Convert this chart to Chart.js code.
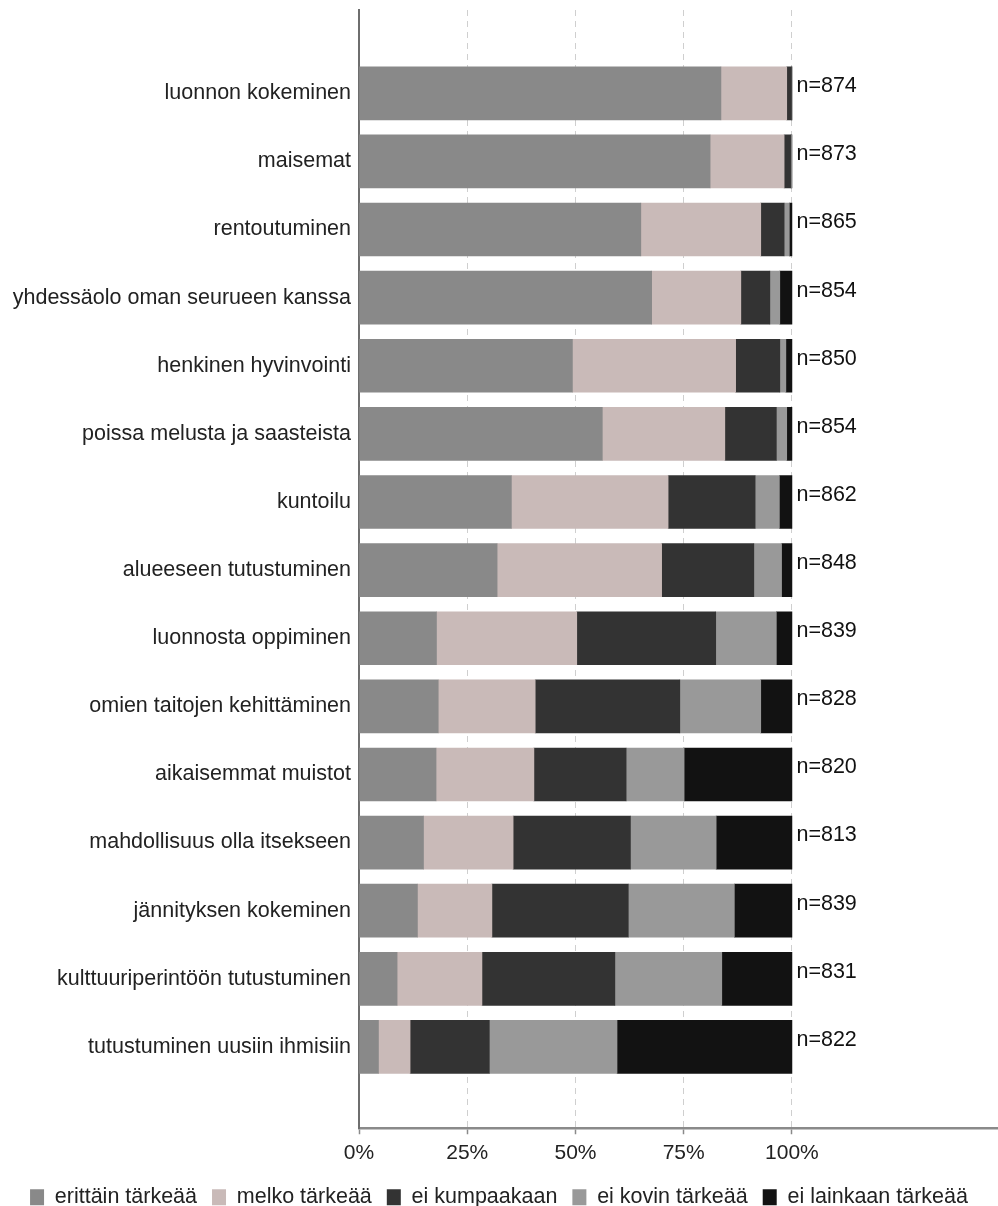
<!DOCTYPE html>
<html>
<head>
<meta charset="utf-8">
<script src="https://cdn.jsdelivr.net/npm/chart.js@4"></script>
<style>
html, body { margin: 0; padding: 0; background: #ffffff; overflow: hidden; }
#clip { width: 998px; height: 1206px; overflow: hidden; position: relative; }
#wrap { width: 998px; height: 1218px; position: relative; }
</style>
</head>
<body>
<div id="clip"><div id="wrap"><canvas id="c"></canvas></div></div>
<script>
const categories = [
  'luonnon kokeminen',
  'maisemat',
  'rentoutuminen',
  'yhdessäolo oman seurueen kanssa',
  'henkinen hyvinvointi',
  'poissa melusta ja saasteista',
  'kuntoilu',
  'alueeseen tutustuminen',
  'luonnosta oppiminen',
  'omien taitojen kehittäminen',
  'aikaisemmat muistot',
  'mahdollisuus olla itsekseen',
  'jännityksen kokeminen',
  'kulttuuriperintöön tutustuminen',
  'tutustuminen uusiin ihmisiin'
];
const seriesNames = ['erittäin tärkeää', 'melko tärkeää', 'ei kumpaakaan', 'ei kovin tärkeää', 'ei lainkaan tärkeää'];
const erittainTarkeaa = [83.6, 81.1, 65.1, 67.6, 49.3, 56.2, 35.2, 31.9, 17.9, 18.3, 17.8, 14.9, 13.5, 8.8, 4.5];
const melkoTarkeaa    = [15.2, 17.1, 27.7, 20.6, 37.7, 28.3, 36.2, 38.0, 32.4, 22.4, 22.6, 20.7, 17.2, 19.6, 7.3];
const eiKumpaakaan    = [1.1, 1.5, 5.4, 6.7, 10.2, 11.9, 20.1, 21.3, 32.1, 33.4, 21.3, 27.1, 31.5, 30.7, 18.3];
const eiKovinTarkeaa  = [0.1, 0.2, 1.2, 2.3, 1.4, 2.4, 5.6, 6.4, 14.0, 18.7, 13.4, 19.8, 24.5, 24.7, 29.5];
const eiLainkaan      = [0.0, 0.1, 0.6, 2.8, 1.4, 1.2, 2.9, 2.4, 3.6, 7.2, 24.9, 17.5, 13.3, 16.2, 40.4];
const nValues = [874, 873, 865, 854, 850, 854, 862, 848, 839, 828, 820, 813, 839, 831, 822];
const xTickValues = [0, 25, 50, 75, 100];

const seriesValues = [erittainTarkeaa, melkoTarkeaa, eiKumpaakaan, eiKovinTarkeaa, eiLainkaan];
const seriesColors = ['#898989', '#c9bab8', '#333333', '#999999', '#121212'];

const FONT = '"Liberation Sans", Arial, Helvetica, sans-serif';
Chart.defaults.font.family = FONT;
Chart.defaults.color = '#222222';

const nLabelPlugin = {
  id: 'nLabels',
  afterDatasetsDraw(chart) {
    const ctx = chart.ctx;
    const xs = chart.scales.x, ys = chart.scales.y;
    ctx.save();
    ctx.font = '21.5px ' + FONT;
    ctx.fillStyle = '#111111';
    ctx.textAlign = 'left';
    ctx.textBaseline = 'middle';
    nValues.forEach((n, i) => {
      ctx.fillText('n=' + n, xs.getPixelForValue(100) + 4.5, ys.getPixelForValue(i) - 7);
    });
    ctx.restore();
  }
};

new Chart(document.getElementById('c'), {
  type: 'bar',
  data: {
    datasets: seriesNames.map((name, s) => ({
      label: name,
      data: seriesValues[s].map((v, i) => ({ x: v, y: i })),
      backgroundColor: seriesColors[s],
      borderWidth: 0,
      barThickness: 53
    }))
  },
  options: {
    indexAxis: 'y',
    responsive: true,
    maintainAspectRatio: false,
    animation: false,
    layout: { padding: { top: 10, left: 0, right: 0, bottom: 0 } },
    scales: {
      x: {
        type: 'linear',
        position: 'bottom',
        stacked: true,
        offset: false,
        min: 0,
        max: 147.6,
        afterBuildTicks: (s) => { s.ticks = xTickValues.map(v => ({ value: v })); },
        afterFit: (s) => { s.height = 43.25; },
        ticks: {
          padding: 6,
          color: '#222222',
          font: { size: 21 },
          callback: (v) => v + '%'
        },
        grid: {
          offset: false,
          color: (c) => (c.tick && c.tick.value === 0) ? '#444444' : '#cfcfcf',
          lineWidth: 1,
          drawTicks: true,
          tickLength: 6,
          tickColor: '#8a8a8a',
          tickWidth: 1.5
        },
        border: { display: true, color: '#8a8a8a', width: 2.5, dash: [6, 5] }
      },
      y: {
        type: 'linear',
        reverse: true,
        stacked: true,
        offset: false,
        min: -1.223,
        max: 15.194,
        afterBuildTicks: (s) => { s.ticks = categories.map((c, i) => ({ value: i })); },
        afterFit: (s) => { s.width = 359; s.paddingTop = 0; s.paddingBottom = 0; },
        ticks: {
          autoSkip: false,
          padding: 8,
          color: '#222222',
          font: { size: 21.5 },
          callback: (v) => categories[v] !== undefined ? categories[v] : ''
        },
        grid: { display: false, drawTicks: false, offset: false },
        border: { display: true, color: '#6e6e6e', width: 2 }
      }
    },
    plugins: {
      tooltip: { enabled: false },
      legend: {
        display: true,
        position: 'bottom',
        align: 'center',
        labels: {
          boxWidth: 14,
          boxHeight: 16,
          padding: 15,
          color: '#222222',
          font: { size: 21.5 },
          generateLabels: (chart) => {
            const items = Chart.defaults.plugins.legend.labels.generateLabels(chart);
            items.forEach(it => { it.lineWidth = 0; });
            return items;
          }
        }
      }
    }
  },
  plugins: [nLabelPlugin]
});
</script>
</body>
</html>
